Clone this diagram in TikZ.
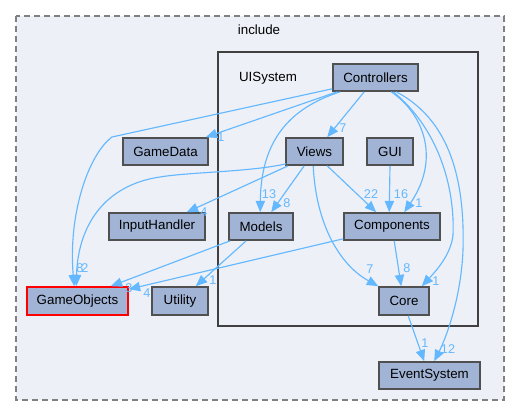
\documentclass[tikz,border=0pt]{standalone}
\usepackage{fontspec}
\setmainfont{Liberation Sans}
\usetikzlibrary{calc,arrows.meta}
\definecolor{clusterfill}{HTML}{EDF0F7}
\definecolor{outerline}{HTML}{808080}
\definecolor{innerline}{HTML}{404040}
\definecolor{nodefill}{HTML}{A2B4D6}
\definecolor{nodeline}{HTML}{505050}
\definecolor{edgeblue}{HTML}{63B8FF}
\definecolor{redline}{HTML}{FF0000}
\tikzset{
  dirnode/.style={draw=nodeline, fill=nodefill, line width=1.2pt, inner sep=0pt,
    minimum height=20.25pt, font=\fontsize{10}{11}\selectfont, text=black},
  w/.style={minimum width=#1*0.75pt},
  dep/.style={draw=edgeblue, line width=0.85pt, -{Triangle[length=8.5pt,width=7pt]}},
  elabel/.style={font=\fontsize{9.5}{10}\selectfont, text=edgeblue, inner sep=0pt},
  clabel/.style={font=\fontsize{10}{11}\selectfont, inner sep=0pt}
}
\begin{document}
\begin{tikzpicture}[x=0.75pt,y=-0.75pt]
\useasboundingbox (0,0) rectangle (520,416);
\fill[white] (0,0) rectangle (520,416);
% clusters
\draw[draw=outerline, fill=clusterfill, line width=1.1pt, dash pattern=on 4.5pt off 3pt] (16,16) rectangle (504,400);
\node[clabel] (incl) at (259,30) {include};
\draw[draw=innerline, fill=clusterfill, line width=1.5pt] (218,52) rectangle (478,326);
\node[clabel] (uis) at (268,78) {UISystem};
% nodes
\node[dirnode, w=85] (Controllers) at (375.5,77.5) {Controllers};
\node[dirnode, w=85] (GameData) at (165.5,151.5) {GameData};
\node[dirnode, w=57] (Views) at (314.5,151.5) {Views};
\node[dirnode, w=46] (GUI) at (390,151.5) {GUI};
\node[dirnode, w=96] (InputHandler) at (157,226.5) {InputHandler};
\node[dirnode, w=64] (Models) at (261,226.5) {Models};
\node[dirnode, w=96] (Components) at (392,226.5) {Components};
\node[dirnode, w=101, minimum height=21pt, draw=redline] (GameObjects) at (77.5,301) {GameObjects};
\node[dirnode, w=56, minimum height=21pt] (Utility) at (180,301) {Utility};
\node[dirnode, w=50, minimum height=21pt] (Core) at (404,301) {Core};
\node[dirnode, w=101] (EventSystem) at (429.5,375.5) {EventSystem};
% edges
\draw[dep] ($(Controllers.south west)+(0,-3)$) -- (112,137) .. controls (88,155) and (68,215) .. ($(GameObjects.north west)+(48,0)$);
\draw[dep] ($(Controllers.south west)+(5,0)$) -- ($(GameData.north east)+(-3,0)$);
\draw[dep] ($(Controllers.south west)+(32,0)$) -- ($(Views.north west)+(42,0)$);
\draw[dep] ($(Controllers.south west)+(8,0)$) .. controls (290,108) and (261,140) .. ($(Models.north west)+(32,0)$);
\draw[dep] ($(Controllers.south west)+(59,0)$) .. controls (425,115) and (440,160) .. ($(Components.north west)+(61,0)$);
\draw[dep] ($(Controllers.south west)+(61,0)$) .. controls (440,130) and (455,190) .. (453,235) .. controls (451,255) and (435,272) .. ($(Core.north east)+(-8,0)$);
\draw[dep] ($(Controllers.south west)+(64,0)$) .. controls (450,120) and (465,180) .. (463,250) .. controls (461,300) and (445,340) .. ($(EventSystem.north west)+(56,0)$);
\draw[dep] ($(Views.south west)+(19,0)$) -- ($(Models.north west)+(43,0)$);
\draw[dep] ($(Views.south west)+(1,-2)$) .. controls (250,172) and (190,172) .. (160,177) .. controls (105,185) and (78,225) .. ($(GameObjects.north west)+(50,0)$);
\draw[dep] ($(Views.south west)+(3,0)$) -- ($(InputHandler.north east)+(-19,0)$);
\draw[dep] ($(Views.south west)+(42,0)$) -- ($(Components.north west)+(33,0)$);
\draw[dep] ($(Views.south west)+(28,0)$) .. controls (316,225) and (340,265) .. (Core.north west);
\draw[dep] (GUI.south) -- ($(Components.north west)+(46,0)$);
\draw[dep] ($(Models.south west)+(2,0)$) -- ($(GameObjects.north east)+(-18,0)$);
\draw[dep] ($(Models.south west)+(18,0)$) -- ($(Utility.north east)+(-13,0)$);
\draw[dep] ($(Components.south west)+(0,-2)$) -- ($(GameObjects.north east)+(0,3)$);
\draw[dep] ($(Components.south west)+(51,0)$) -- ($(Core.north west)+(23,0)$);
\draw[dep] ($(Core.south west)+(30,0)$) -- ($(EventSystem.north west)+(46,0)$);
% edge labels
\node[elabel] (l1) at (85,268) {2};
\node[elabel] (l9) at (80,268) {8};
\node[elabel] (l2) at (221,137) {1};
\node[elabel] (l3) at (343,128) {7};
\node[elabel] (l4) at (269,194) {13};
\node[elabel] (l5) at (419,203) {1};
\node[elabel] (l6) at (436,281) {1};
\node[elabel] (l7) at (448,349) {12};
\node[elabel] (l8) at (287,203) {8};
\node[elabel] (l10) at (204,212) {4};
\node[elabel] (l11) at (371,194) {22};
\node[elabel] (l12) at (370,269) {7};
\node[elabel] (l13) at (401,194) {16};
\node[elabel] (l14) at (129,288) {3};
\node[elabel] (l15) at (213,280) {1};
\node[elabel] (l16) at (147,293) {4};
\node[elabel] (l17) at (407,268) {8};
\node[elabel] (l18) at (425,343) {1};
\end{tikzpicture}
\end{document}
